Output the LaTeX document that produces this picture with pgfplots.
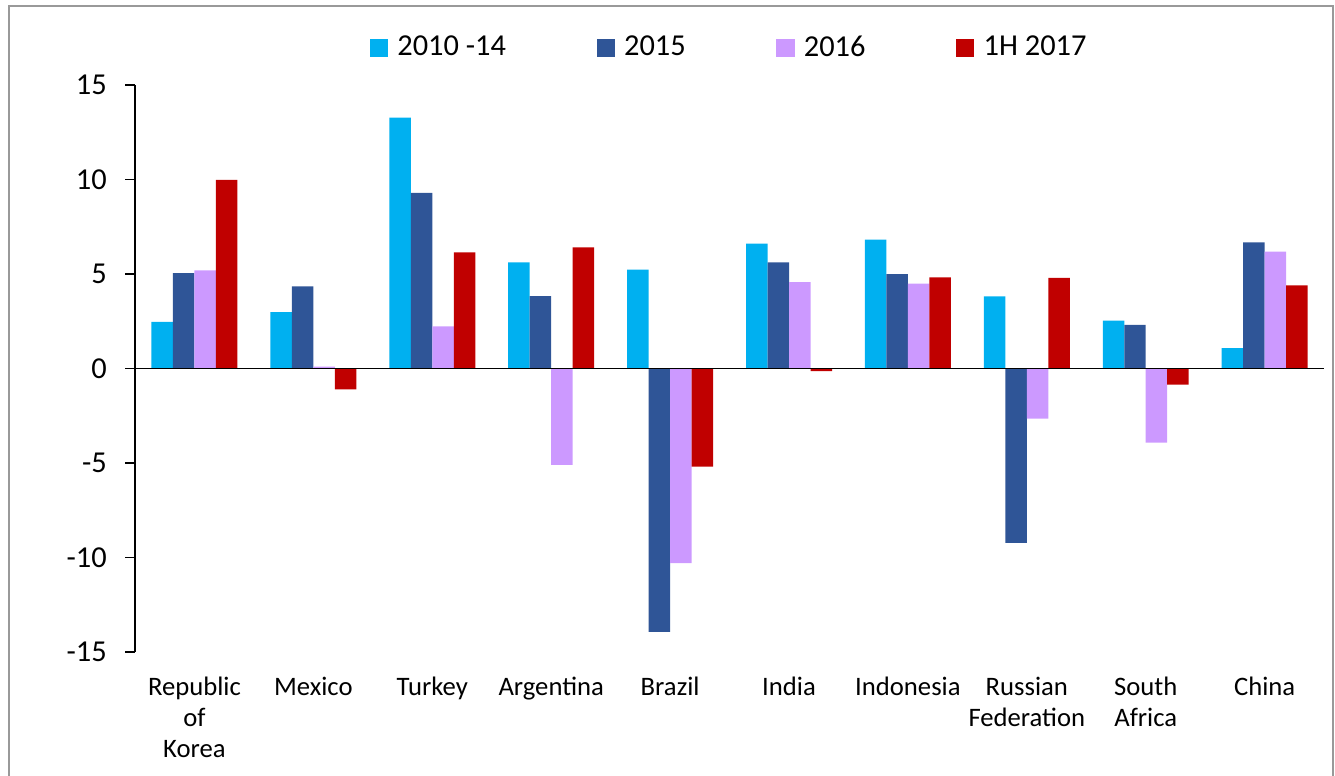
\documentclass[border=0pt]{standalone}
\usepackage{pgfplots}
\pgfplotsset{compat=1.18}
\usepackage{fontspec}
\setmainfont{Carlito}

\definecolor{cA}{HTML}{00B0F0}
\definecolor{cB}{HTML}{2F5597}
\definecolor{cC}{HTML}{CC99FF}
\definecolor{cD}{HTML}{C00000}

\pgfplotsset{sqleg/.style={legend image code/.code={\fill[##1] (0pt,-3.4pt) rectangle (6.8pt,3.4pt);}}}

\begin{document}
\begin{tikzpicture}
% page frame, units of one reference pixel
\begin{scope}[x=0.375pt,y=0.375pt]
\useasboundingbox (-135,-123) rectangle (1200,652);
\draw[black!40, line width=0.7pt] (-126,-140) -- (-126,646) -- (1198,646) -- (1198,-140);
\end{scope}
\begin{axis}[
    width=445.9pt, height=212.6pt, scale only axis,
    xmin=-0.5, xmax=9.5, ymin=-15, ymax=15,
    ybar=0pt, bar width=8.06pt,
    axis lines=left, axis line style={-, line width=0.5pt},
    x axis line style={draw=none},
    xtick={0,...,9},
    xticklabels={{Republic\\of\\Korea},Mexico,Turkey,Argentina,Brazil,India,Indonesia,{Russian\\Federation},{South\\Africa},China},
    xtick style={draw=none},
    xticklabel style={align=center, yshift=-2.25pt, font=\fontsize{10}{11.6}\selectfont},
    ytick={-15,-10,...,15},
    tick align=outside, major tick length=3.75pt,
    ytick style={black, line width=0.5pt},
    yticklabel style={xshift=-3.3pt, font=\fontsize{11.4}{13}\selectfont},
    /pgf/number format/assume math mode=true,
    legend columns=4,
    legend style={at={(0.5,1)}, anchor=center, yshift=13.9pt, draw=none,
        font=\fontsize{11.4}{13}\selectfont,
        nodes={inner sep=1pt},
        /tikz/every even column/.append style={column sep=33pt},
        /tikz/every odd column/.append style={column sep=2.5pt}},
]
\addplot[fill=cA, draw=none, sqleg] coordinates {
    (0,2.47) (1,2.98) (2,13.28) (3,5.62) (4,5.23)
    (5,6.61) (6,6.82) (7,3.82) (8,2.53) (9,1.08)};
\addlegendentry{2010 -14}
\addplot[fill=cB, draw=none, sqleg] coordinates {
    (0,5.05) (1,4.35) (2,9.29) (3,3.83) (4,-13.94)
    (5,5.62) (6,5.00) (7,-9.22) (8,2.31) (9,6.68)};
\addlegendentry{2015}
\addplot[fill=cC, draw=none, sqleg] coordinates {
    (0,5.19) (1,0.10) (2,2.23) (3,-5.10) (4,-10.30)
    (5,4.57) (6,4.49) (7,-2.65) (8,-3.92) (9,6.18)};
\addlegendentry{2016}
\addplot[fill=cD, draw=none, sqleg] coordinates {
    (0,9.98) (1,-1.10) (2,6.15) (3,6.41) (4,-5.19)
    (5,-0.14) (6,4.82) (7,4.80) (8,-0.85) (9,4.40)};
\addlegendentry{1H 2017}
\draw[black, line width=0.6pt] (axis cs:-0.5,0) -- (axis cs:9.5,0);
\end{axis}
\end{tikzpicture}
\end{document}
